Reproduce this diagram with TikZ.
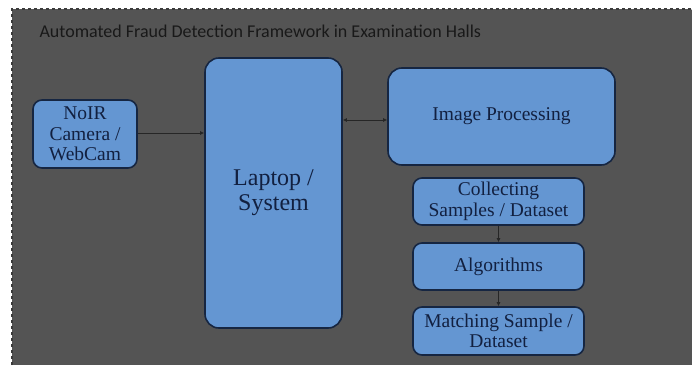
\documentclass[tikz,border=0pt]{standalone}
\usepackage{fontspec}
\setmainfont{Liberation Serif}
\newfontfamily\titlefont{Carlito}
\usepackage{tikz}
\usetikzlibrary{arrows.meta}

\definecolor{panelgray}{RGB}{84,84,84}
\definecolor{boxblue}{RGB}{100,150,210}
\definecolor{boxedge}{RGB}{22,38,66}
\definecolor{inktext}{RGB}{18,32,64}

\begin{document}
\begin{tikzpicture}[x=1pt, y=-1pt,
    block/.style={draw=boxedge, line width=1.6pt, fill=boxblue, rounded corners=9pt,
                  text=inktext, align=center, inner sep=0pt, font=\fontsize{19.5}{20.5}\selectfont},
    link/.style={-{Latex[length=4pt,width=4pt]}, line width=0.8pt, black!85}]
    \useasboundingbox (0,0) rectangle (692,367);
    \fill[white] (0,0) rectangle (692,367);
    \draw[panelgray!70!black, dashed, fill=panelgray, line width=1.2pt] (12,365) -- (12,9) -- (692,9);
    \fill[panelgray] (12.6,9.6) rectangle (692,365);
    \node[anchor=west, text=black!90, font=\titlefont\fontsize{18}{20}\selectfont] (title) at (36,31)
        {Automated Fraud Detection Framework in Examination Halls};
    % left part
    \node[block, minimum width=104pt, minimum height=68pt] (camera) at (85,134) {NoIR\\Camera /\\WebCam};
    \node[block, minimum width=137pt, minimum height=270pt, rounded corners=14pt,
          font=\fontsize{24}{25}\selectfont] (laptop) at (273.5,193) {Laptop /\\System};
    % right part
    \node[block, minimum width=227pt, minimum height=97pt, rounded corners=14pt] (improc) at (501.5,116.5) {Image Processing};
    \node[block, minimum width=171pt, minimum height=47pt] (collect) at (498.5,201.5) {Collecting\\Samples / Dataset};
    \node[block, minimum width=171pt, minimum height=47pt] (algo) at (498.5,266.5) {Algorithms};
    \node[block, minimum width=171pt, minimum height=48pt] (match) at (498.5,331) {Matching Sample /\\Dataset};
    \draw[link] (camera.east |- 0,133) -- (laptop.west |- 0,133);
    \draw[link, {Latex[length=4pt,width=4pt]}-{Latex[length=4pt,width=4pt]}] (laptop.east |- 0,120) -- (improc.west |- 0,120);
    \draw[link] (collect) -- (algo);
    \draw[link] (algo) -- (match);
\end{tikzpicture}
\end{document}
